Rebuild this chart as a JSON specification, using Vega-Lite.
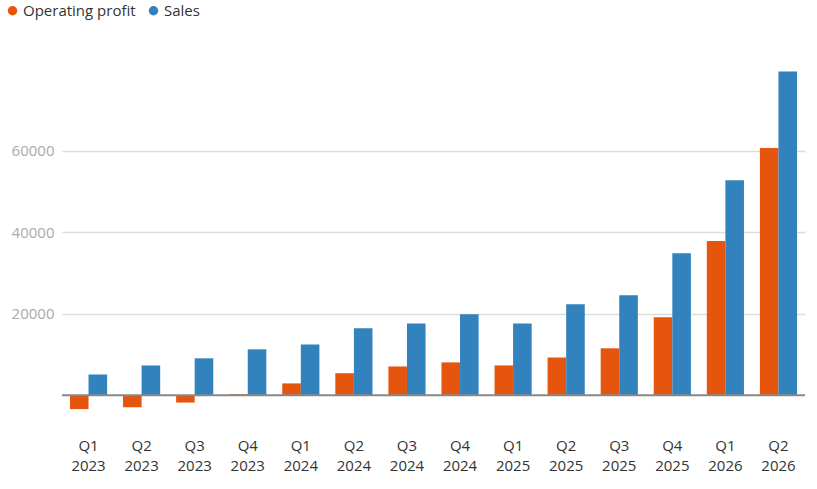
{
  "$schema": "https://vega.github.io/schema/vega-lite/v6.json",
  "width": 743,
  "height": 367,
  "autosize": {"type": "none"},
  "padding": {"left": 62, "top": 69, "right": 12, "bottom": 53},
  "background": "#ffffff",
  "config": {
    "view": {"stroke": null},
    "font": "Open Sans"
  },
  "datasets": {
    "rows": [
      {"quarter": "Q1 2023", "series": "Operating profit", "value": -3400},
      {"quarter": "Q1 2023", "series": "Sales", "value": 5100},
      {"quarter": "Q2 2023", "series": "Operating profit", "value": -2950},
      {"quarter": "Q2 2023", "series": "Sales", "value": 7300},
      {"quarter": "Q3 2023", "series": "Operating profit", "value": -1800},
      {"quarter": "Q3 2023", "series": "Sales", "value": 9050},
      {"quarter": "Q4 2023", "series": "Operating profit", "value": 250},
      {"quarter": "Q4 2023", "series": "Sales", "value": 11250},
      {"quarter": "Q1 2024", "series": "Operating profit", "value": 2900},
      {"quarter": "Q1 2024", "series": "Sales", "value": 12450},
      {"quarter": "Q2 2024", "series": "Operating profit", "value": 5400},
      {"quarter": "Q2 2024", "series": "Sales", "value": 16400},
      {"quarter": "Q3 2024", "series": "Operating profit", "value": 7050},
      {"quarter": "Q3 2024", "series": "Sales", "value": 17600},
      {"quarter": "Q4 2024", "series": "Operating profit", "value": 8050},
      {"quarter": "Q4 2024", "series": "Sales", "value": 19850},
      {"quarter": "Q1 2025", "series": "Operating profit", "value": 7300},
      {"quarter": "Q1 2025", "series": "Sales", "value": 17600},
      {"quarter": "Q2 2025", "series": "Operating profit", "value": 9250},
      {"quarter": "Q2 2025", "series": "Sales", "value": 22300},
      {"quarter": "Q3 2025", "series": "Operating profit", "value": 11500},
      {"quarter": "Q3 2025", "series": "Sales", "value": 24500},
      {"quarter": "Q4 2025", "series": "Operating profit", "value": 19100},
      {"quarter": "Q4 2025", "series": "Sales", "value": 34800},
      {"quarter": "Q1 2026", "series": "Operating profit", "value": 37800},
      {"quarter": "Q1 2026", "series": "Sales", "value": 52700},
      {"quarter": "Q2 2026", "series": "Operating profit", "value": 60600},
      {"quarter": "Q2 2026", "series": "Sales", "value": 79400}
    ],
    "zero": [{"v": 0}]
  },
  "layer": [
    {
      "data": {"name": "rows"},
      "mark": {"type": "bar"},
      "encoding": {
        "x": {
          "field": "quarter",
          "type": "nominal",
          "sort": null,
          "title": null,
          "scale": {"paddingInner": 0.3, "paddingOuter": 0.15},
          "axis": {
            "labelAngle": 0,
            "labelExpr": "split(datum.label, ' ')",
            "labelFontSize": 15,
            "labelColor": "#333333",
            "labelLineHeight": 20,
            "labelPadding": 2,
            "domain": false,
            "ticks": false,
            "grid": false
          }
        },
        "xOffset": {
          "field": "series",
          "type": "nominal",
          "sort": ["Operating profit", "Sales"]
        },
        "y": {
          "field": "value",
          "type": "quantitative",
          "title": null,
          "scale": {"domain": [-10000, 80000], "nice": false},
          "axis": {
            "values": [20000, 40000, 60000],
            "format": "d",
            "labelFontSize": 15,
            "labelColor": "#aaaaaa",
            "labelPadding": 8,
            "domain": false,
            "ticks": false,
            "gridColor": "#dddddd",
            "gridWidth": 1.5
          }
        },
        "color": {
          "field": "series",
          "type": "nominal",
          "scale": {
            "domain": ["Operating profit", "Sales"],
            "range": ["#e6550d", "#3182bd"]
          },
          "legend": {
            "title": null,
            "orient": "none",
            "direction": "horizontal",
            "legendX": -57,
            "legendY": -66,
            "symbolType": "circle",
            "symbolSize": 90,
            "symbolOpacity": 1,
            "labelFontSize": 15,
            "labelColor": "#333333",
            "labelOffset": 3,
            "columnPadding": 10
          }
        }
      }
    },
    {
      "data": {"name": "zero"},
      "mark": {"type": "rule", "color": "#888888", "strokeWidth": 2},
      "encoding": {
        "y": {"field": "v", "type": "quantitative"}
      }
    }
  ]
}
